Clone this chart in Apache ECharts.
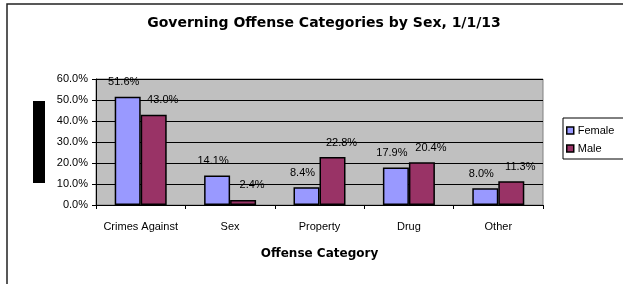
<!DOCTYPE html>
<html>
<head>
<meta charset="utf-8">
<script src="https://cdn.jsdelivr.net/npm/echarts@6/dist/echarts.min.js"></script>
<style>
  html, body { margin: 0; padding: 0; background: #fff; }
  #chart { width: 623px; height: 284px; }
</style>
</head>
<body>
<div id="chart"></div>
<script>
// values (percent of each sex)
const categories = ['Crimes Against', 'Sex', 'Property', 'Drug', 'Other']
const female = [51.6, 14.1, 8.4, 17.9, 8.0]
const male = [43.0, 2.4, 22.8, 20.4, 11.3]
const yTicks = [0, 10, 20, 30, 40, 50, 60]

const FONT = 'Liberation Sans, Arial, sans-serif'
const WIDE = 'DejaVu Sans, Liberation Sans, sans-serif'
const pct = v => v.toFixed(1) + '%'

const getBaseSerie = (name, color, data, offsetX) => {
  return {
    name: name,
    type: 'bar',
    data: data,
    barWidth: 26,
    barGap: '0%',
    itemStyle: {
      color: color,
      borderColor: '#000',
      borderWidth: 1.5
    },
    label: {
      show: true,
      position: 'top',
      distance: 9,
      offset: [offsetX, 0],
      color: '#000',
      fontFamily: FONT,
      fontSize: 11,
      formatter: p => pct(p.value)
    },
    emphasis: { disabled: true }
  }
}

const chart = echarts.init(document.getElementById('chart'), null, { renderer: 'canvas' })
chart.setOption({
  animation: false,
  backgroundColor: '#fff',
  textStyle: { fontFamily: FONT },
  title: {
    text: 'Governing Offense Categories by Sex, 1/1/13',
    left: 319,
    textAlign: 'center',
    top: 11,
    textStyle: { fontFamily: WIDE, fontSize: 14, fontWeight: 'bold', color: '#000' }
  },
  legend: {
    orient: 'vertical',
    left: 563,
    top: 118,
    padding: [7, 12, 5, 3],
    itemGap: 7,
    itemWidth: 7,
    itemHeight: 7,
    borderColor: '#000',
    borderWidth: 1,
    borderRadius: 0,
    icon: 'rect',
    itemStyle: { borderColor: '#000', borderWidth: 1.5 },
    textStyle: { fontFamily: FONT, fontSize: 11, color: '#000', padding: [0, 0, 0, -1] },
    data: ['Female', 'Male']
  },
  grid: {
    left: 96,
    right: 80,
    top: 79,
    bottom: 79,
    show: true,
    backgroundColor: '#C0C0C0',
    borderColor: '#808080',
    borderWidth: 1,
    containLabel: false
  },
  xAxis: {
    type: 'category',
    data: categories,
    boundaryGap: true,
    name: 'Offense Category',
    nameLocation: 'middle',
    nameGap: 43,
    nameTextStyle: { fontFamily: WIDE, fontSize: 12, fontWeight: 'bold', color: '#000' },
    axisLine: { show: true, lineStyle: { color: '#000', width: 1 } },
    axisTick: { show: true, alignWithLabel: false, length: 4, lineStyle: { color: '#000' } },
    axisLabel: { margin: 16, fontFamily: FONT, fontSize: 11, color: '#000', interval: 0 },
    splitLine: { show: false }
  },
  yAxis: {
    type: 'value',
    min: yTicks[0],
    max: yTicks[yTicks.length - 1],
    interval: 10,
    axisLine: { show: true, lineStyle: { color: '#000', width: 1 } },
    axisTick: { show: true, length: 4, lineStyle: { color: '#000' } },
    axisLabel: { margin: 8, fontFamily: FONT, fontSize: 11, color: '#000', formatter: v => pct(v) },
    splitLine: { show: true, lineStyle: { color: '#000', width: 1 } }
  },
  graphic: [
    {
      // outer chart frame
      type: 'rect',
      silent: true,
      z: 100,
      shape: { x: 7, y: 4, width: 800, height: 400 },
      style: { fill: 'none', stroke: '#222', lineWidth: 1.5 }
    },
    {
      // blacked-out y axis title
      type: 'rect',
      silent: true,
      shape: { x: 33, y: 101, width: 12, height: 82 },
      style: { fill: '#000' }
    }
  ],
  series: [
    getBaseSerie('Female', '#9999FF', female, -4),
    getBaseSerie('Male', '#993366', male, 9)
  ]
})
</script>
</body>
</html>
